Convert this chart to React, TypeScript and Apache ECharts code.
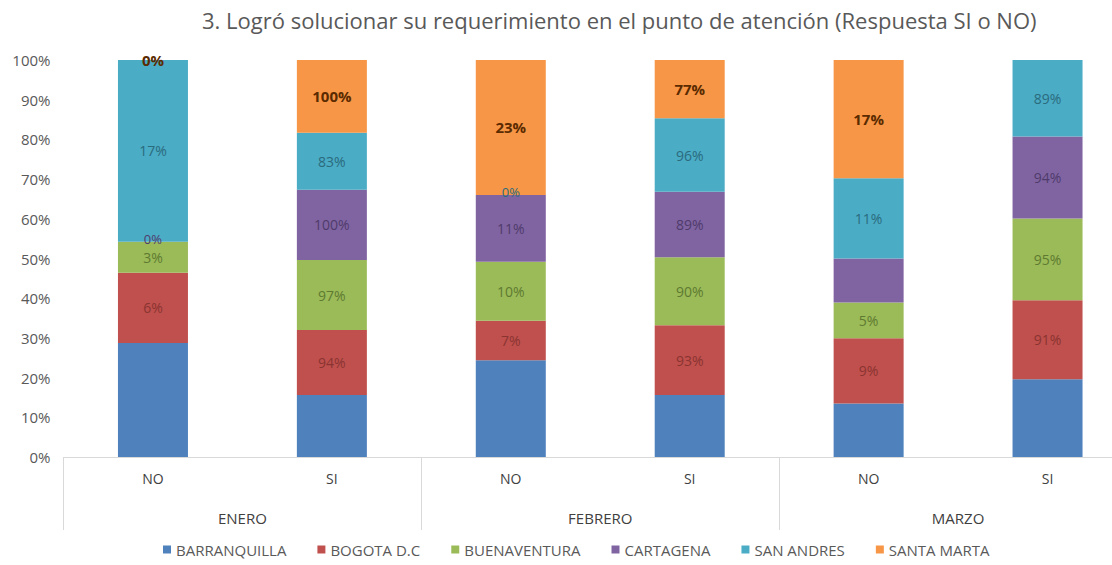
import React, { useEffect, useRef } from "react";
import * as echarts from "echarts";

const categories = ["NO", "SI", "NO", "SI", "NO", "SI"];
const months = ["ENERO", "FEBRERO", "MARZO"];
const seriesNames = ["BARRANQUILLA", "BOGOTA D.C", "BUENAVENTURA", "CARTAGENA", "SAN ANDRES", "SANTA MARTA"];
const yTicks = [0, 10, 20, 30, 40, 50, 60, 70, 80, 90, 100];

// visible segment heights (share of each bar, %)
const barranquilla = [28.7, 15.6, 24.4, 15.6, 13.5, 19.6];
const bogota = [17.7, 16.4, 9.9, 17.6, 16.4, 19.9];
const buenaventura = [7.8, 17.6, 14.9, 17.1, 9.0, 20.6];
const cartagena = [0, 17.7, 16.8, 16.5, 11.1, 20.6];
const sanAndres = [45.8, 14.4, 0, 18.5, 20.2, 19.3];
const santaMarta = [0, 18.3, 34.0, 14.7, 29.8, 0];

// data labels printed on the segments (null = no label)
const barranquillaLabels: (string | null)[] = [null, null, null, null, null, null];
const bogotaLabels: (string | null)[] = ["6%", "94%", "7%", "93%", "9%", "91%"];
const buenaventuraLabels: (string | null)[] = ["3%", "97%", "10%", "90%", "5%", "95%"];
const cartagenaLabels: (string | null)[] = ["0%", "100%", "11%", "89%", null, "94%"];
const sanAndresLabels: (string | null)[] = ["17%", "83%", "0%", "96%", "11%", "89%"];
const santaMartaLabels: (string | null)[] = ["0%", "100%", "23%", "77%", "17%", null];

const seriesValues = [barranquilla, bogota, buenaventura, cartagena, sanAndres, santaMarta];
const seriesLabels = [barranquillaLabels, bogotaLabels, buenaventuraLabels, cartagenaLabels, sanAndresLabels, santaMartaLabels];
const colors = ["#4F81BD", "#C0504D", "#9BBB59", "#8064A2", "#4BACC6", "#F79646"];
const labelColors = ["#2c4d7a", "#8a3432", "#5e7a30", "#4f3b6b", "#2a6b7d", "#5a2a00"];

const FONT = "'Open Sans', 'Noto Sans', sans-serif";

export default function App() {
  const ref = useRef<HTMLDivElement>(null);
  useEffect(() => {
    if (!ref.current) return;
    const chart = echarts.init(ref.current, null, { renderer: "svg" });
    chart.setOption({
      animation: false,
      backgroundColor: "#ffffff",
      color: colors,
      title: {
        text: "3. Logró solucionar su requerimiento en el punto de atención (Respuesta SI o NO)",
        left: 197,
        top: 4,
        textStyle: { fontFamily: FONT, fontSize: 22, fontWeight: "normal", color: "#595959" },
      },
      legend: {
        bottom: 3,
        left: 158,
        itemWidth: 8,
        itemHeight: 8,
        itemGap: 31,
        icon: "rect",
        textStyle: { fontFamily: FONT, fontSize: 15, color: "#595959" },
        data: seriesNames,
      },
      grid: { left: 63.5, right: 3, top: 60, bottom: 108, containLabel: false },
      xAxis: [
        {
          type: "category",
          data: categories,
          axisLine: { show: true, lineStyle: { color: "#d9d9d9" } },
          axisTick: {
            show: true,
            length: 73,
            interval: (index: number) => index % 2 === 0,
            lineStyle: { color: "#d9d9d9" },
          },
          axisLabel: { fontFamily: FONT, fontSize: 14, color: "#404040", margin: 14 },
        },
        {
          type: "category",
          data: months,
          position: "bottom",
          offset: 45,
          axisLine: { show: false },
          axisTick: { show: false },
          axisLabel: { fontFamily: FONT, fontSize: 15, color: "#404040", margin: 8 },
        },
      ],
      yAxis: {
        type: "value",
        min: 0,
        max: 100,
        interval: 10,
        axisLine: { show: false },
        axisTick: { show: false },
        splitLine: { show: false },
        axisLabel: {
          fontFamily: FONT,
          fontSize: 15,
          color: "#595959",
          margin: 13,
          formatter: (v: number) => (yTicks.includes(v) ? v + "%" : ""),
        },
      },
      series: seriesNames.map((name, si) => ({
        name,
        type: "bar",
        stack: "total",
        xAxisIndex: 0,
        barWidth: 70,
        data: seriesValues[si].map((v, i) => {
          const lbl = seriesLabels[si][i];
          return {
            value: v,
            label: {
              show: lbl !== null,
              formatter: lbl ?? "",
              offset: v === 0 && si !== 5 ? [0, -3] : [0, 0],
              fontSize: v === 0 && si !== 5 ? 13 : undefined,
            },
          };
        }),
        label: {
          position: "inside",
          fontFamily: FONT,
          fontSize: si === 5 ? 15 : 14,
          fontWeight: si === 5 ? "bold" : "normal",
          color: labelColors[si],
        },
      })),
    });
    return () => chart.dispose();
  }, []);
  return (
    <div style={{ position: "fixed", left: 0, top: 0, width: 1112, height: 565, overflow: "hidden", background: "#fff" }}>
      <div ref={ref} style={{ width: 1140, height: 565 }} />
    </div>
  );
}
